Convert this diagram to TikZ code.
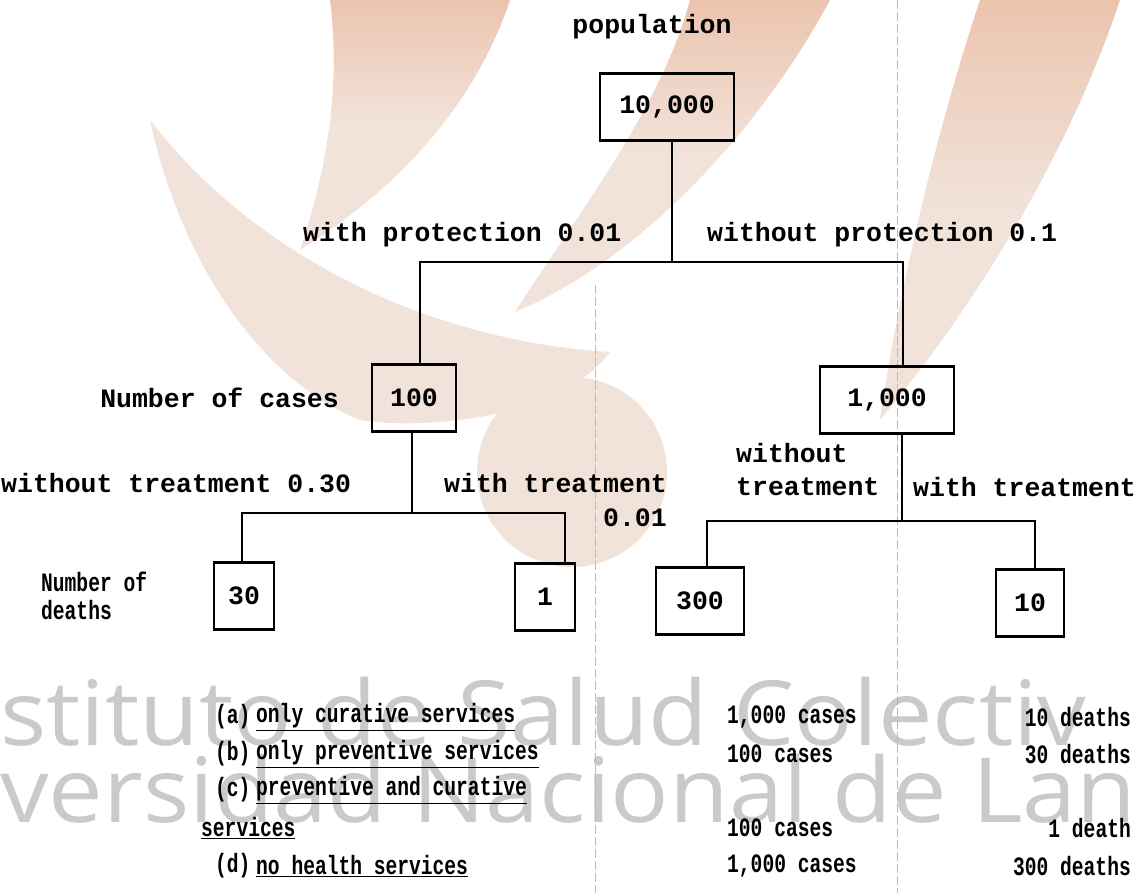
\documentclass[tikz,border=0pt]{standalone}
\usepackage{graphicx}
\usepackage{fontspec}
\setmonofont{Liberation Mono}
\newfontfamily\wmfont{Open Sans}
\usetikzlibrary{positioning}
\definecolor{wmpeach}{RGB}{241,227,218}
\definecolor{wmorange}{RGB}{236,196,174}
\definecolor{wmgray}{RGB}{202,202,202}
\newcommand{\narrow}[1]{\scalebox{0.74}[1]{#1}}
\newcommand{\wide}[1]{\scalebox{1.08}[1]{#1}}

\begin{document}
\begin{tikzpicture}[x=1pt, y=-1pt,
  every node/.style={font=\ttfamily\bfseries\fontsize{26.5}{30}\selectfont, inner sep=1pt},
  box/.style={draw, line width=2.4pt, minimum width=#1, minimum height=67pt},
  box/.default=70pt,
  tree/.style={line width=2.6pt},
  fold/.style={draw=gray!55, line width=0.8pt, dash pattern=on 9pt off 3pt},
  wm/.style={font=\wmfont\fontsize{90}{96}\selectfont, text=wmgray, inner sep=0pt},
  leaf/.style={top color=wmorange, bottom color=wmpeach, middle color=wmpeach}
]
\useasboundingbox (0,0) rectangle (1145,893);
\clip (0,0) rectangle (1145,893);

%--- watermark ---
\shade[leaf] (330,0) -- (510,0) .. controls (470,120) and (380,200) .. (300,250)
  .. controls (330,160) and (340,80) .. cycle;
\fill[wmpeach] (150,120) .. controls (250,250) and (420,340) .. (610,352)
  .. controls (560,420) and (420,430) .. (360,420) .. controls (260,380) and (180,260) .. cycle;
\shade[leaf] (690,0) -- (830,0) .. controls (760,130) and (640,260) .. (515,312)
  .. controls (580,210) and (660,110) .. cycle;
\shade[leaf] (980,0) -- (1120,0) .. controls (1070,150) and (980,300) .. (880,420)
  .. controls (900,280) and (940,120) .. cycle;
\fill[wmpeach] (572,472) circle (95);
\node[wm, anchor=base west] (wm1) at (0,745) {\wide{stituto de Salud Colectiv}};
\node[wm, anchor=base west] (wm2) at (0,822) {\wide{versidad Nacional de Lan}};

%--- fold marks ---
\draw[fold] (595,285) -- (595,893);
\draw[fold] (897,0) -- (897,893);

%--- boxes ---
\node (pop) at (652,27) {population};
\node[box=134pt] (n0)    at (667,107) {10,000};
\node[box=84pt]  (n100)  at (414,398) {100};
\node[box=134pt] (n1000) at (887,400) {1,000};
\node[box=60pt]  (n30)   at (244,596) {30};
\node[box=60pt]  (n1)    at (545,597) {1};
\node[box=88pt]  (n300)  at (700,601) {300};
\node[box=68pt]  (n10)   at (1030,603) {10};

%--- branches ---
\coordinate (a1) at (672,262);
\coordinate (a0) at (420,262);
\coordinate (a2) at (903,262);
\draw[tree] (n0.south -| a1) -- (a1);
\draw[tree] (n100.north -| a0) -- (a0) -- (a2) -- (a2 |- n1000.north);

\coordinate (b1) at (412,513);
\coordinate (b0) at (242,513);
\coordinate (b2) at (565,513);
\draw[tree] (n100.south -| b1) -- (b1);
\draw[tree] (n30.north -| b0) -- (b0) -- (b2) -- (b2 |- n1.north);

\coordinate (c1) at (902,521);
\coordinate (c0) at (707,521);
\coordinate (c2) at (1035,521);
\draw[tree] (n1000.south -| c1) -- (c1);
\draw[tree] (c0 |- n300.north) -- (c0) -- (c2) -- (c2 |- n10.north);

%--- branch labels ---
\node[anchor=west] (wp)    at (302,235) {with protection 0.01};
\node[anchor=west] (wop)   at (706,235) {without protection 0.1};
\node[anchor=east] (ncase) at (340,398) {Number of cases};
\node[anchor=west] (wot1)  at (0,483)   {without treatment 0.30};
\node[anchor=west] (wt1)   at (443,483) {with treatment};
\node[anchor=east] (wt1p)  at (668,518) {0.01};
\node[anchor=west] (wot2)  at (735,453) {without};
\node[anchor=west] (wot2b) at (735,487) {treatment};
\node[anchor=west] (wt2)   at (912,487) {with treatment};
\node[anchor=west] (ndth)  at (40,582)  {\narrow{Number of}};
\node[anchor=west] (ndthb) at (40,610)  {\narrow{deaths}};

%--- comparison ---
\node[anchor=west] (la)  at (214,717) {\narrow{(a)}};
\node[anchor=west] (la1) at (255,717) {\narrow{\underline{only curative services}}};
\node[anchor=west] (la2) at (726,717) {\narrow{1,000 cases}};
\node[anchor=east] (la3) at (1132,717) {\narrow{10 deaths}};

\node[anchor=west] (lb)  at (214,754) {\narrow{(b)}};
\node[anchor=west] (lb1) at (255,754) {\narrow{\underline{only preventive services}}};
\node[anchor=west] (lb2) at (726,754) {\narrow{100 cases}};
\node[anchor=east] (lb3) at (1132,754) {\narrow{30 deaths}};

\node[anchor=west] (lc)  at (214,790) {\narrow{(c)}};
\node[anchor=west] (lc1) at (255,790) {\narrow{\underline{preventive and curative}}};
\node[anchor=west] (lc4) at (200,828) {\narrow{\underline{services}}};
\node[anchor=west] (lc2) at (726,828) {\narrow{100 cases}};
\node[anchor=east] (lc3) at (1132,828) {\narrow{1 death}};

\node[anchor=west] (ld)  at (214,866) {\narrow{(d)}};
\node[anchor=west] (ld1) at (255,866) {\narrow{\underline{no health services}}};
\node[anchor=west] (ld2) at (726,866) {\narrow{1,000 cases}};
\node[anchor=east] (ld3) at (1132,866) {\narrow{300 deaths}};

\end{tikzpicture}
\end{document}
